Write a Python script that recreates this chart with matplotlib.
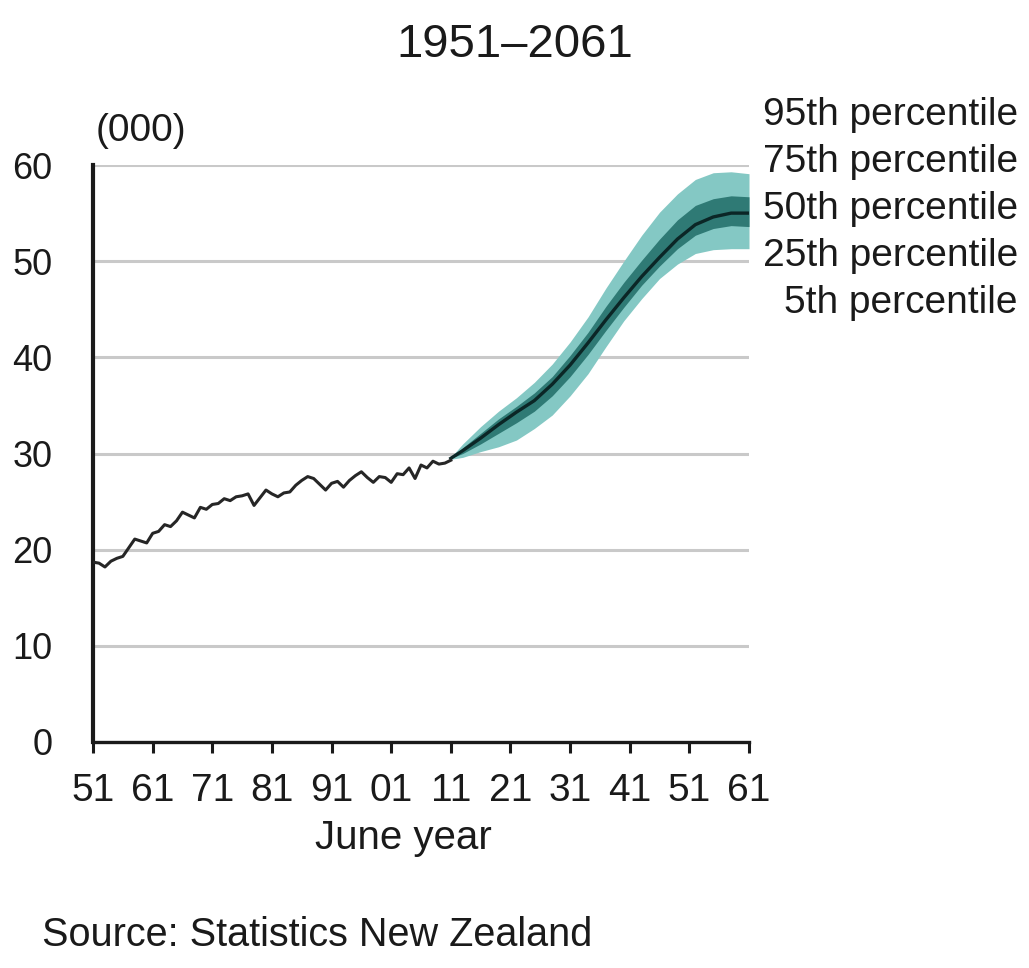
import matplotlib
matplotlib.use("Agg")
import matplotlib.pyplot as plt

plt.rcParams['font.family'] = ['Liberation Sans', 'DejaVu Sans']

# annual deaths, June years 1951-2011 (000)
hist_years = list(range(1951, 2012))
hist_deaths = [
    18.7, 18.6, 18.2, 18.8, 19.1, 19.3, 20.2, 21.1, 20.9, 20.7,
    21.7, 21.9, 22.6, 22.4, 23.0, 23.9, 23.6, 23.3, 24.4, 24.2,
    24.7, 24.8, 25.3, 25.1, 25.5, 25.6, 25.8, 24.6, 25.4, 26.2,
    25.8, 25.5, 25.9, 26.0, 26.7, 27.2, 27.6, 27.4, 26.8, 26.2,
    26.9, 27.1, 26.5, 27.2, 27.7, 28.1, 27.5, 27.0, 27.6, 27.5,
    27.0, 27.9, 27.8, 28.5, 27.4, 28.8, 28.5, 29.2, 28.9, 29.0,
    29.3,
]

# projected deaths by percentile, 2011-2061 (000)
proj_years = [2011, 2013, 2016, 2019, 2022, 2025, 2028, 2031, 2034,
              2037, 2040, 2043, 2046, 2049, 2052, 2055, 2058, 2061]
p95 = [29.6, 31.0, 32.8, 34.4, 35.8, 37.4, 39.3, 41.6, 44.2,
       47.2, 50.0, 52.7, 55.1, 57.0, 58.5, 59.2, 59.3, 59.1]
p75 = [29.5, 30.6, 32.1, 33.6, 34.9, 36.3, 38.0, 40.2, 42.6,
       45.3, 47.8, 50.1, 52.3, 54.3, 55.8, 56.5, 56.8, 56.7]
p50 = [29.5, 30.3, 31.6, 33.0, 34.3, 35.5, 37.2, 39.2, 41.5,
       43.9, 46.2, 48.4, 50.4, 52.3, 53.8, 54.6, 55.0, 55.0]
p25 = [29.5, 30.0, 31.0, 32.1, 33.2, 34.4, 36.0, 38.0, 40.3,
       42.8, 45.2, 47.5, 49.5, 51.3, 52.7, 53.4, 53.7, 53.6]
p5 = [29.4, 29.6, 30.2, 30.7, 31.4, 32.6, 34.0, 36.0, 38.3,
      41.1, 43.8, 46.1, 48.2, 49.7, 50.8, 51.2, 51.3, 51.3]

x_ticks = list(range(1951, 2062, 10))
x_ticklabels = ['%02d' % (y % 100) for y in x_ticks]
y_ticks = [0, 10, 20, 30, 40, 50, 60]
band_labels = ['95th percentile', '75th percentile', '50th percentile',
               '25th percentile', '5th percentile']

light_teal = '#84c8c4'
dark_teal = '#2f7a75'
ink = '#1a1a1a'

fig = plt.figure(figsize=(10.29, 9.68), dpi=100)
ax = fig.add_axes([0.0904, 0.2335, 0.6375, 0.5960])

ax.fill_between(proj_years, p5, p95, color=light_teal, lw=0, zorder=2)
ax.fill_between(proj_years, p25, p75, color=dark_teal, lw=0, zorder=3)
ax.plot(proj_years, p50, color='#0b2626', lw=2.4, zorder=4,
        solid_joinstyle='round')
ax.plot(hist_years, hist_deaths, color='#262626', lw=2.2, zorder=4)

ax.set_xlim(1951, 2061)
ax.set_ylim(0, 60)
ax.set_xticks(x_ticks)
ax.set_xticklabels(x_ticklabels)
ax.set_yticks(y_ticks)

for y in y_ticks[1:]:
    ax.axhline(y, color='#c9c9c9', lw=2.2, zorder=1)

for side in ['top', 'right']:
    ax.spines[side].set_visible(False)
ax.spines['left'].set_linewidth(3.0)
ax.spines['bottom'].set_linewidth(2.4)
ax.spines['left'].set_color(ink)
ax.spines['bottom'].set_color(ink)

ax.tick_params(axis='x', direction='out', length=8, width=2.2,
               labelsize=28, pad=14, colors=ink)
ax.tick_params(axis='y', length=0, labelsize=26, pad=29, colors=ink)

fig.text(515 / 1029, 1 - 45 / 968, '1951\u20132061', ha='center',
         va='center', fontsize=34, color=ink)
fig.text(96 / 1029, 1 - 131 / 968, '(000)', ha='left', va='center',
         fontsize=28, color=ink)
fig.text(403 / 1029, 1 - 838 / 968, 'June year', ha='center', va='center',
         fontsize=29, color=ink)
fig.text(42 / 1029, 1 - 935 / 968, 'Source: Statistics New Zealand',
         ha='left', va='center', fontsize=28.5, color=ink)

for i, lbl in enumerate(band_labels):
    fig.text(1018 / 1029, 1 - (115 + 47 * i) / 968, lbl, ha='right',
             va='center', fontsize=28, color=ink)

fig.savefig('out.png', dpi=100, facecolor='white')
